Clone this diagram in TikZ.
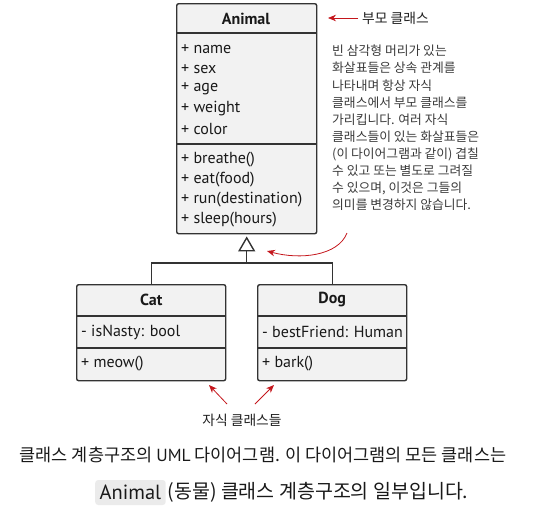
\documentclass[tikz,border=0pt]{standalone}
\usepackage{fontspec}
\setmainfont{PT Sans}
\newfontfamily\kr{Noto Sans CJK KR}
\usetikzlibrary{arrows.meta}
\definecolor{boxfill}{HTML}{F2F2F2}
\definecolor{boxline}{HTML}{333333}
\definecolor{accent}{HTML}{C4161C}
\definecolor{para}{HTML}{3A3A3A}
\definecolor{codebg}{HTML}{EBEBEB}
\tikzset{
  classbox/.style={draw=boxline, fill=boxfill, line width=1.4pt, rounded corners=2pt, anchor=north west, inner sep=0pt},
  sep/.style={draw=boxline, line width=1.4pt},
  member/.style={anchor=west, inner sep=0pt, font=\fontsize{16}{18}\selectfont, text=black!90},
  title/.style={inner sep=0pt, font=\fontsize{16}{18}\selectfont\bfseries, text=black!90},
  inherit/.style={draw=boxline, line width=1.4pt},
  redarrow/.style={draw=accent, line width=0.8pt, -{Stealth[length=8pt,width=6.5pt]}},
  note/.style={inner sep=0pt, font=\kr\fontsize{12.8}{17.1}\selectfont, text=para, align=left, anchor=north west},
  label/.style={inner sep=0pt, font=\kr\fontsize{13.8}{16}\selectfont, text=black!88},
  caption/.style={inner sep=0pt, font=\kr\fontsize{17.5}{20}\selectfont, text=black!90}
}
\begin{document}
\begin{tikzpicture}[x=1pt,y=-1pt]
\useasboundingbox (0,0) rectangle (550,507);
% Animal class
\node[classbox, minimum width=140pt, minimum height=230pt] (animal) at (176,3) {};
\draw[sep] ([yshift=-30pt]animal.north west) -- ([yshift=-30pt]animal.north east);
\draw[sep] ([yshift=-141pt]animal.north west) -- ([yshift=-141pt]animal.north east);
\node[title] (animalT) at (246,18.5) {Animal};
\node[member] (a1) at (181,49) {+ name};
\node[member] (a2) at (181,69) {+ sex};
\node[member] (a3) at (181,89) {+ age};
\node[member] (a4) at (181,109) {+ weight};
\node[member] (a5) at (181,129) {+ color};
\node[member] (m1) at (181,160) {+ breathe()};
\node[member] (m2) at (181,180) {+ eat(food)};
\node[member] (m3) at (181,200) {+ run(destination)};
\node[member] (m4) at (181,220) {+ sleep(hours)};
% Cat class
\node[classbox, minimum width=149pt, minimum height=96pt] (cat) at (76,284) {};
\draw[sep] ([yshift=-32pt]cat.north west) -- ([yshift=-32pt]cat.north east);
\draw[sep] ([yshift=-64pt]cat.north west) -- ([yshift=-64pt]cat.north east);
\node[title] (catT) at (cat.north |- 0,300) {Cat};
\node[member] (c1) at (81,332) {- isNasty: bool};
\node[member] (c2) at (81,364) {+ meow()};
% Dog class
\node[classbox, minimum width=149pt, minimum height=96pt] (dog) at (257,284) {};
\draw[sep] ([yshift=-32pt]dog.north west) -- ([yshift=-32pt]dog.north east);
\draw[sep] ([yshift=-64pt]dog.north west) -- ([yshift=-64pt]dog.north east);
\node[title] (dogT) at (dog.north |- 0,300) {Dog};
\node[member] (d1) at (262,332) {- bestFriend: Human};
\node[member] (d2) at (262,364) {+ bark()};
% inheritance
\coordinate (junc) at (animal.south |- 0,263);
\draw[inherit] (cat.north) |- (junc) -| (dog.north);
\draw[inherit, -{Triangle[open, length=15pt, width=17pt, line width=1.4pt]}] (junc) -- ([yshift=-2pt]animal.south);
% parent label
\node[label, anchor=west] (parentL) at (362,18) {부모 클래스};
\coordinate (parentTip) at (328,18);
\draw[redarrow] (parentL.west) ++(-4,0) coordinate (parentStart) (parentStart) -- (parentTip);
% note
\node[note] (noteT) at (332,45) {빈 삼각형 머리가 있는\\화살표들은 상속 관계를\\나타내며 항상 자식\\클래스에서 부모 클래스를\\가리킵니다. 여러 자식\\클래스들이 있는 화살표들은\\(이 다이어그램과 같이) 겹칠\\수 있고 또는 별도로 그려질\\수 있으며, 이것은 그들의\\의미를 변경하지 않습니다.};
\coordinate (curveStart) at (347,233);
\coordinate (curveTip) at (267,251);
\draw[redarrow] (curveStart) .. controls (338,256) and (300,260) .. (curveTip);
% child label
\node[label] (childL) at (242,420) {자식 클래스들};
\coordinate (catTip) at (209,385);
\coordinate (dogTip) at (274,385);
\draw[redarrow] (227,404) -- (catTip);
\draw[redarrow] (255,404) -- (dogTip);
% caption
\node[caption] (cap1) at (263,455) {클래스 계층구조의 {\rmfamily UML} 다이어그램. 이 다이어그램의 모든 클래스는};
\node[caption, fill=codebg, rounded corners=3pt, inner xsep=4.5pt, inner ysep=0pt, minimum height=25pt, anchor=west, font=\fontsize{20.5}{22}\selectfont] (code) at (95,492.5) {Animal};
\node[caption, anchor=west, font=\kr\fontsize{19.5}{22}\selectfont] (cap2) at ([xshift=1.5pt]code.east) {(동물) 클래스 계층구조의 일부입니다.};
\end{tikzpicture}
\end{document}
